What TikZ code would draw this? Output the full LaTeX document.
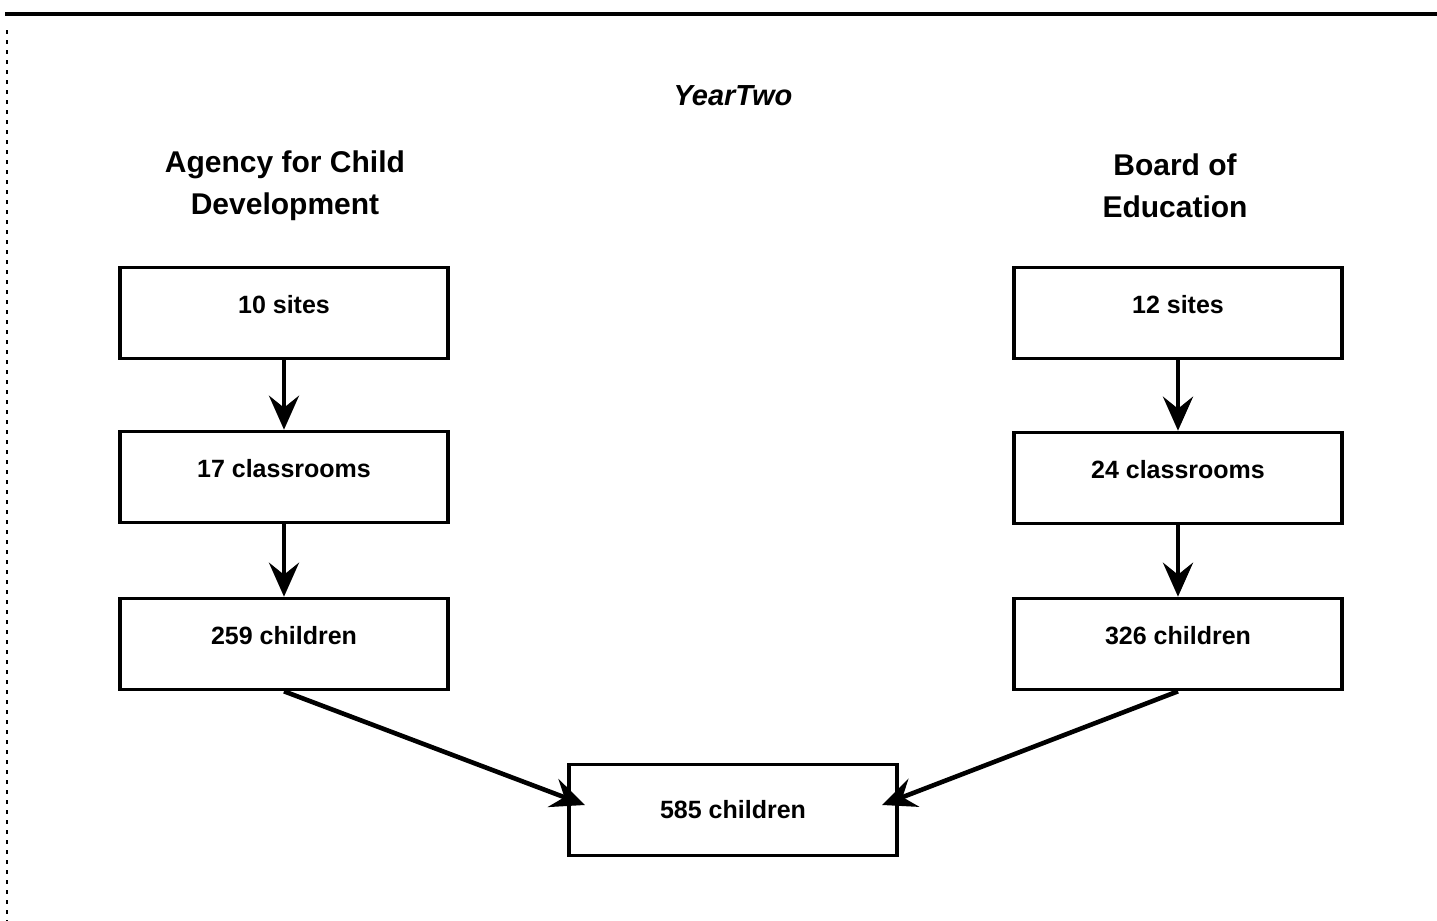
\documentclass[tikz,border=0pt]{standalone}
\usepackage{fontspec}
\setmainfont{Liberation Sans}
\usetikzlibrary{arrows.meta}
\begin{document}
\begin{tikzpicture}[x=0.5pt,y=-0.5pt,
  box/.style={draw, line width=1.8pt, minimum width=164pt, minimum height=45.5pt,
    inner sep=0pt, font=\fontsize{12.5}{15}\selectfont\bfseries},
  sidebox/.style={box, text depth=9pt},
  hdr/.style={align=center, inner sep=0pt, font=\fontsize{15}{21}\selectfont\bfseries},
  conn/.style={line width=2.3pt, -{Stealth[length=17pt,width=15pt,inset=6pt]}},
  frame/.style={line width=2pt}]
\useasboundingbox (0,0) rectangle (1437,921);

% frame lines of the scan
\coordinate (tl) at (5,14);
\coordinate (tr) at (1437,14);
\coordinate (lt) at (7,30);
\coordinate (lb) at (7,921);
\draw[frame] (tl) -- (tr);
\draw[line width=0.9pt, dash pattern=on 2pt off 3pt] (lt) -- (lb);

% titles
\node[inner sep=0pt, font=\fontsize{14.5}{16}\selectfont\bfseries\itshape] (title) at (733,96) {YearTwo};
\node[hdr] (hl) at (285,186) {Agency for Child\\Development};
\node[hdr] (hr) at (1175,186) {Board of\\Education};

% left column
\node[sidebox] (L1) at (284,313) {10 sites};
\node[sidebox] (L2) at (284,477) {17 classrooms};
\node[sidebox] (L3) at (284,644) {259 children};

% right column
\node[sidebox] (R1) at (1178,313) {12 sites};
\node[sidebox] (R2) at (1178,478) {24 classrooms};
\node[sidebox] (R3) at (1178,644) {326 children};

% total
\node[box] (B) at (733,810) {585 children};
\coordinate (Bl) at (585,805);
\coordinate (Br) at (882,805);

% connectors
\draw[conn] (L1.south) -- (L2.north);
\draw[conn] (L2.south) -- (L3.north);
\draw[conn] (R1.south) -- (R2.north);
\draw[conn] (R2.south) -- (R3.north);
\draw[conn] (L3.south) -- (Bl);
\draw[conn] (R3.south) -- (Br);
\end{tikzpicture}
\end{document}
